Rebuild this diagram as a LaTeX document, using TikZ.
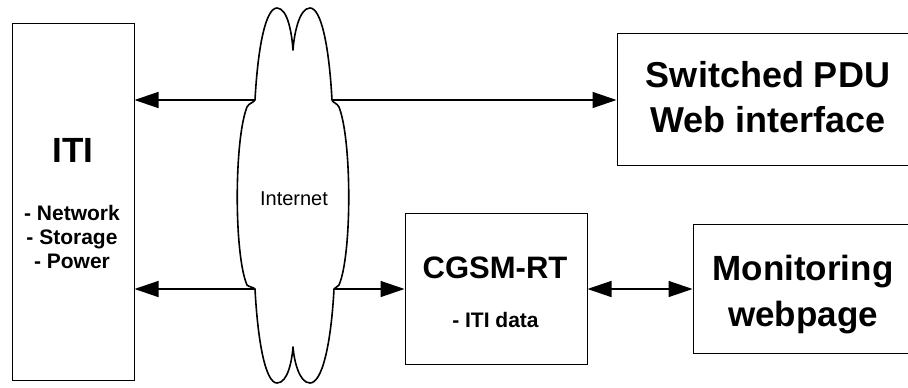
\documentclass[tikz,border=0pt]{standalone}
\usepackage{fontspec}
\setmainfont{Liberation Sans}
\usetikzlibrary{arrows.meta}
\begin{document}
\begin{tikzpicture}[x=1pt,y=-1pt,
  box/.style={draw, line width=1pt, inner sep=0pt},
  lbl/.style={anchor=base, inner sep=0pt, font=\bfseries},
  link/.style={line width=1.4pt},
  tip/.style={-{Triangle[length=24pt,width=16pt]}},
  tips/.style={{Triangle[length=24pt,width=16pt]}-{Triangle[length=24pt,width=16pt]}},
  cloudline/.style={line width=1.6pt, line join=round}]
\useasboundingbox (0,0) rectangle (908,388);
\clip (0,0) rectangle (908,388);

% boxes
\node[box, minimum width=122pt, minimum height=357pt] (iti) at (73,201.5) {};
\node[box, minimum width=302pt, minimum height=132pt] (pdu) at (768,99) {};
\node[box, minimum width=182pt, minimum height=151pt] (cgsm) at (496,288.5) {};
\node[box, minimum width=220pt, minimum height=129pt] (mon) at (803,288.5) {};

% labels
\node[lbl, font=\bfseries\fontsize{35}{40}\selectfont] (itiT) at (73,162) {ITI};
\node[lbl, font=\bfseries\fontsize{21}{24}\selectfont] (itiA) at (72,220) {- Network};
\node[lbl, font=\bfseries\fontsize{21}{24}\selectfont] (itiB) at (72,244) {- Storage};
\node[lbl, font=\bfseries\fontsize{21}{24}\selectfont] (itiC) at (72,268) {- Power};
\node[lbl, font=\bfseries\fontsize{36}{44}\selectfont] (pduA) at (768,87) {Switched PDU};
\node[lbl, font=\bfseries\fontsize{36}{44}\selectfont] (pduB) at (768,132) {Web interface};
\node[lbl, font=\bfseries\fontsize{31}{36}\selectfont] (cgsmT) at (495,278) {CGSM-RT};
\node[lbl, font=\bfseries\fontsize{21}{24}\selectfont] (cgsmA) at (495.5,327) {- ITI data};
\node[lbl, font=\bfseries\fontsize{35}{42}\selectfont] (monA) at (803,280) {Monitoring};
\node[lbl, font=\bfseries\fontsize{35}{42}\selectfont] (monB) at (803,326) {webpage};

% cloud
\coordinate (ctl) at (255,100);
\coordinate (ctr) at (332,100);
\coordinate (cbl) at (255,289);
\coordinate (cbr) at (334,289);
\draw[cloudline] (ctl)
  .. controls (258,45) and (266,8) .. (277,8)
  .. controls (288,8) and (292,35) .. (293,50)
  .. controls (294,35) and (299,8) .. (310,8)
  .. controls (321,8) and (329,45) .. (ctr)
  .. controls (333,103) and (337,103) .. (339,107)
  .. controls (352,140) and (352,255) .. (339,285)
  .. controls (337,288) and (335,287) .. (cbr)
  .. controls (331,345) and (322,383) .. (310,383)
  .. controls (299,383) and (294,360) .. (293,347)
  .. controls (292,360) and (288,383) .. (277,383)
  .. controls (266,383) and (258,345) .. (cbl)
  .. controls (253,287) and (249,287) .. (247,285)
  .. controls (234,255) and (234,140) .. (247,107)
  .. controls (249,103) and (253,103) .. (ctl) -- cycle;
\node[anchor=base, inner sep=0pt, font=\fontsize{20}{24}\selectfont] (net) at (294,205) {Internet};

% connectors
\draw[link, tip] (ctl) -- (iti.east |- ctl);
\draw[link, tip] (ctr) -- (pdu.west |- ctr);
\draw[link, tip] (cbl) -- (iti.east |- cbl);
\draw[link, tip] (cbr) -- (cgsm.west |- cbr);
\draw[link, tips] (cgsm.east |- cbr) -- (mon.west |- cbr);
\end{tikzpicture}
\end{document}
